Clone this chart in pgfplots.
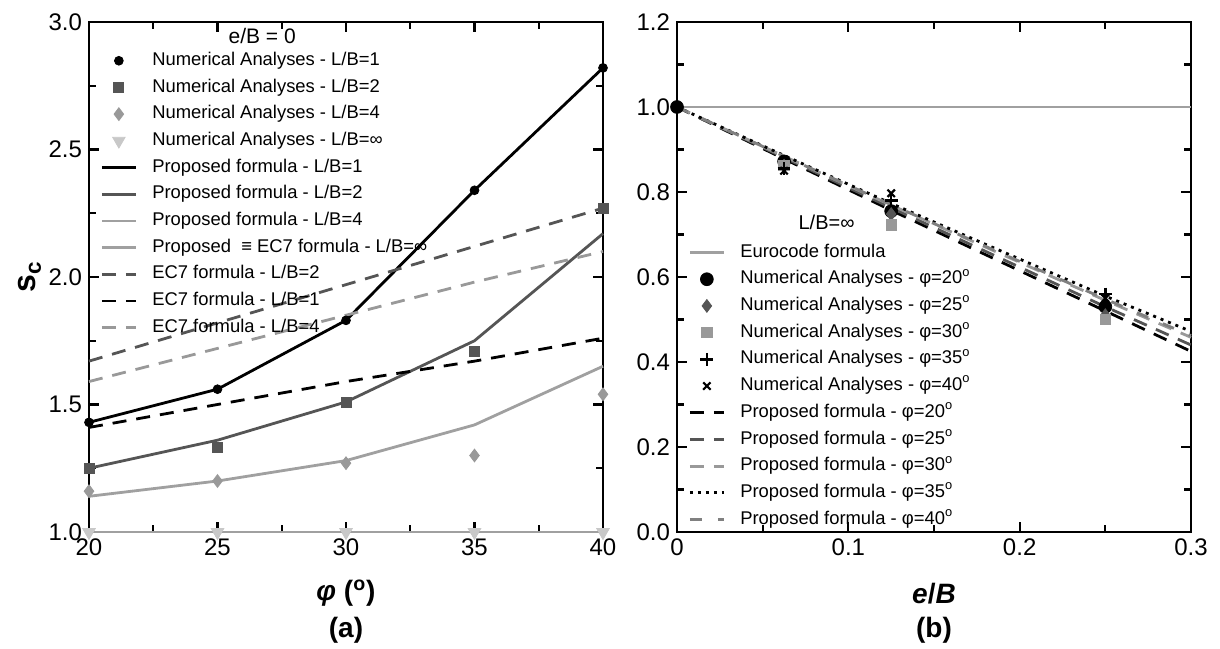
\documentclass[border=0pt]{standalone}
\usepackage{fontspec}
\setmainfont{Liberation Sans}
\usepackage{pgfplots}
\pgfplotsset{compat=1.18}
\definecolor{dg}{HTML}{555555}
\definecolor{mg}{HTML}{999999}
\definecolor{lg}{HTML}{C8C8C8}
\definecolor{pg}{HTML}{A0A0A0}
\pgfplotsset{
  panel/.style={
    width=257pt, height=255pt, scale only axis, clip=false,
    axis line style={line width=1.3pt},
    tick style={line width=1.1pt, black},
    major tick length=5pt, minor tick length=3.5pt,
    tick align=inside,
    tick label style={font=\fontsize{12}{12}\selectfont},
    /pgf/number format/assume math mode=true,
    legend cell align=left,
    legend style={draw=none, fill=none, anchor=north west, inner sep=0pt,
      font=\fontsize{9.2}{9.2}\selectfont, column sep=7pt, row sep=3.55pt,
      nodes={inner sep=0.5pt, text height=6.7pt, text depth=2.1pt}},
    xlabel style={at={(axis description cs:0.5,-0.12)}, anchor=center,
      font=\fontsize{14}{14}\selectfont\bfseries},
  },
  ln/.style={line width=1.4pt, no markers},
  ec/.style={line width=1.4pt, no markers, dash pattern=on 7pt off 5pt},
}
\begin{document}
\begin{tikzpicture}
\useasboundingbox (-44.5pt,-58pt) rectangle (565.5pt,266pt);
% (a) shape factor against friction angle
\begin{axis}[panel, at={(0pt,0pt)},
  xmin=20, xmax=40, ymin=1, ymax=3,
  xtick={20,25,30,35,40}, minor x tick num=1,
  ytick={1,1.5,2,2.5,3}, minor y tick num=1,
  yticklabel style={/pgf/number format/.cd, fixed, fixed zerofill, precision=1},
  xlabel={\textit{φ} (\textsuperscript{o})},
  ylabel={\textbf{s}\textsubscript{\textbf{c}}},
  ylabel style={at={(axis description cs:-0.115,0.5)}, anchor=center,
    font=\fontsize{16}{16}\selectfont\bfseries},
  legend style={at={(0.0214,0.944)}},
]
\addplot[only marks, mark=*, mark size=2.2pt, black] coordinates
  {(20,1.43)(25,1.56)(30,1.83)(35,2.34)(40,2.82)};
\addlegendentry{Numerical Analyses - L/B=1}
\addplot[only marks, mark=square*, mark size=2.5pt, dg] coordinates
  {(20,1.25)(25,1.33)(30,1.51)(35,1.71)(40,2.27)};
\addlegendentry{Numerical Analyses - L/B=2}
\addplot[only marks, mark=diamond*, mark size=3.2pt, mg] coordinates
  {(20,1.16)(25,1.20)(30,1.27)(35,1.30)(40,1.54)};
\addlegendentry{Numerical Analyses - L/B=4}
\addplot[only marks, mark=triangle*, mark options={rotate=180}, mark size=3.6pt, lg] coordinates
  {(20,1)(25,1)(30,1)(35,1)(40,1)};
\addlegendentry{Numerical Analyses - L/B=∞}
\addplot[ln, black] coordinates
  {(20,1.43)(25,1.56)(30,1.83)(35,2.34)(40,2.82)};
\addlegendentry{Proposed formula - L/B=1}
\addplot[ln, dg] coordinates
  {(20,1.25)(25,1.36)(30,1.51)(35,1.75)(40,2.17)};
\addlegendentry{Proposed formula - L/B=2}
\addplot[ln, pg] coordinates
  {(20,1.14)(25,1.20)(30,1.28)(35,1.42)(40,1.65)};
\addlegendentry{Proposed formula - L/B=4}
\addplot[ln, pg] coordinates
  {(20,1)(25,1)(30,1)(35,1)(40,1)};
\addlegendentry{Proposed \ ≡ EC7 formula - L/B=∞}
\addplot[ec, dg] coordinates
  {(20,1.67)(25,1.82)(30,1.97)(35,2.12)(40,2.27)};
\addlegendentry{EC7 formula - L/B=2}
\addplot[ec, black] coordinates
  {(20,1.41)(25,1.50)(30,1.59)(35,1.67)(40,1.76)};
\addlegendentry{EC7 formula - L/B=1}
\addplot[ec, mg] coordinates
  {(20,1.59)(25,1.72)(30,1.85)(35,1.98)(40,2.10)};
\addlegendentry{EC7 formula - L/B=4}
\node[font=\fontsize{10.5}{10.5}\selectfont] at (rel axis cs:0.337,0.973) {e/B = 0};
\node[font=\fontsize{14}{14}\selectfont\bfseries] at (axis description cs:0.5,-0.192) {(a)};
\end{axis}
% overlay: the L/B = infinity series lie on the bottom spine and are drawn over it
\begin{axis}[at={(0pt,0pt)}, width=257pt, height=255pt, scale only axis, clip=false,
  hide axis, xmin=20, xmax=40, ymin=1, ymax=3]
\addplot[ln, pg] coordinates {(20,1)(25,1)(30,1)(35,1)(40,1)};
\addplot[only marks, mark=triangle*, mark options={rotate=180}, mark size=3.6pt, lg] coordinates
  {(20,1)(25,1)(30,1)(35,1)(40,1)};
\end{axis}
% (b) shape factor against eccentricity
\begin{axis}[panel, at={(294pt,0pt)},
  xmin=0, xmax=0.3, ymin=0, ymax=1.2,
  xtick={0,0.1,0.2,0.3}, xticklabels={0,0.1,0.2,0.3}, minor x tick num=1,
  ytick={0,0.2,0.4,0.6,0.8,1.0,1.2}, minor y tick num=1,
  yticklabel style={/pgf/number format/.cd, fixed, fixed zerofill, precision=1},
  xlabel={\textit{e}/\textit{B}},
  legend style={at={(0.0214,0.568)}},
]
\addplot[ln, pg] coordinates {(0,1)(0.3,1)};
\addlegendentry{Eurocode formula}
\addplot[only marks, mark=*, mark size=3.2pt, black] coordinates
  {(0.0625,0.872)(0.125,0.755)(0.25,0.53)};
\addlegendentry{Numerical Analyses - φ=20\textsuperscript{o}}
\addplot[only marks, mark=diamond*, mark size=3.2pt, dg] coordinates
  {(0.0625,0.862)(0.125,0.748)(0.25,0.51)};
\addlegendentry{Numerical Analyses - φ=25\textsuperscript{o}}
\addplot[only marks, mark=square*, mark size=2.6pt, mg] coordinates
  {(0.0625,0.862)(0.125,0.723)(0.25,0.50)};
\addlegendentry{Numerical Analyses - φ=30\textsuperscript{o}}
\addplot[only marks, mark=+, mark size=3.2pt, line width=1.3pt, black] coordinates
  {(0.0625,0.855)(0.125,0.78)(0.25,0.56)};
\addlegendentry{Numerical Analyses - φ=35\textsuperscript{o}}
\addplot[only marks, mark=x, mark size=2.6pt, line width=1.1pt, black] coordinates
  {(0.0625,0.85)(0.125,0.797)(0.25,0.55)};
\addlegendentry{Numerical Analyses - φ=40\textsuperscript{o}}
\addplot[ec, black] coordinates
  {(0,1)(0.0625,0.878)(0.125,0.757)(0.25,0.52)(0.3,0.425)};
\addlegendentry{Proposed formula - φ=20\textsuperscript{o}}
\addplot[ec, dg] coordinates
  {(0,1)(0.0625,0.881)(0.125,0.763)(0.25,0.53)(0.3,0.44)};
\addlegendentry{Proposed formula - φ=25\textsuperscript{o}}
\addplot[ec, mg] coordinates
  {(0,1)(0.0625,0.884)(0.125,0.769)(0.25,0.545)(0.3,0.458)};
\addlegendentry{Proposed formula - φ=30\textsuperscript{o}}
\addplot[line width=1.4pt, no markers, black, dash pattern=on 1.5pt off 2.5pt] coordinates
  {(0,1)(0.0625,0.886)(0.125,0.773)(0.25,0.555)(0.3,0.472)};
\addlegendentry{Proposed formula - φ=35\textsuperscript{o}}
\addplot[line width=1.4pt, no markers, pg!80!black, dash pattern=on 6pt off 8pt] coordinates
  {(0,1)(0.0625,0.884)(0.125,0.77)(0.25,0.548)(0.3,0.462)};
\addlegendentry{Proposed formula - φ=40\textsuperscript{o}}
\node[font=\fontsize{10}{10}\selectfont] at (rel axis cs:0.291,0.608) {L/B=∞};
\node[font=\fontsize{14}{14}\selectfont\bfseries] at (axis description cs:0.5,-0.192) {(b)};
\end{axis}
% overlay: common starting point of all series at e/B = 0
\begin{axis}[at={(294pt,0pt)}, width=257pt, height=255pt, scale only axis, clip=false,
  hide axis, xmin=0, xmax=0.3, ymin=0, ymax=1.2]
\addplot[only marks, mark=*, mark size=3.2pt, black] coordinates {(0,1)};
\end{axis}
\end{tikzpicture}
\end{document}
